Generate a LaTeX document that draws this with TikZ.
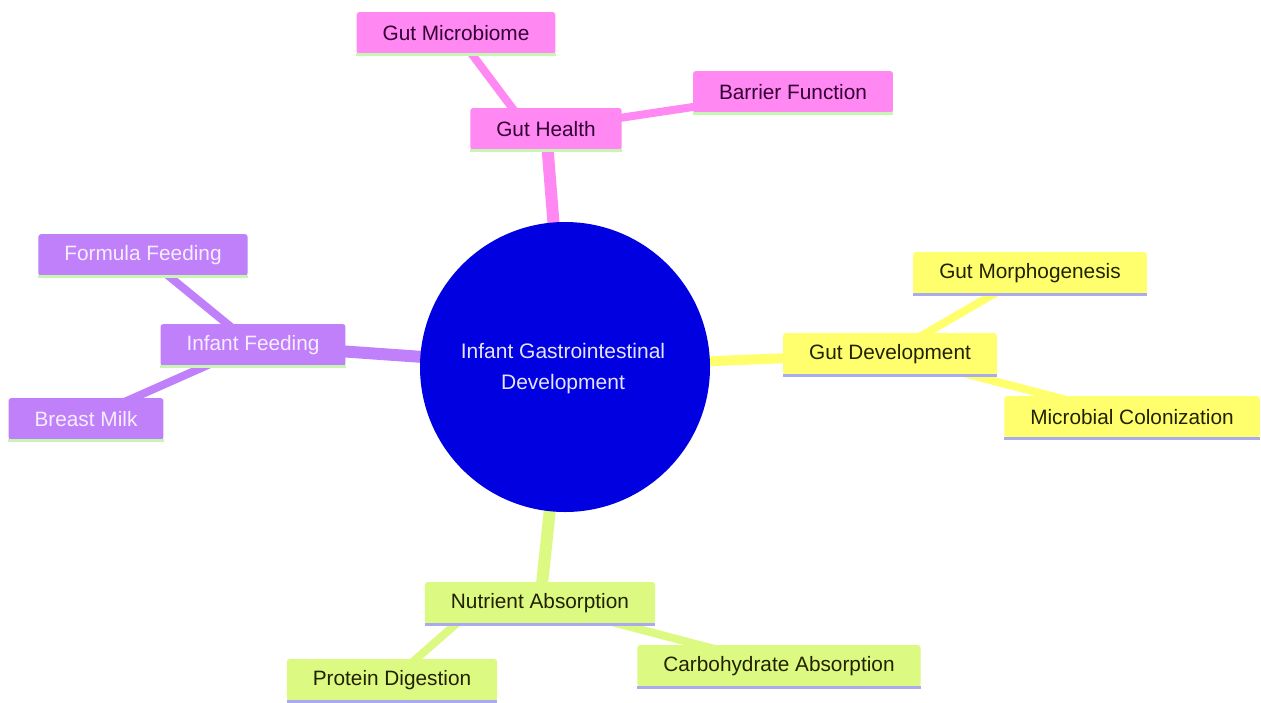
\documentclass[tikz,border=0pt]{standalone}
\usepackage{fontspec}
\setmainfont{Liberation Sans}
\usetikzlibrary{calc}
\pgfdeclarelayer{bg}
\pgfsetlayers{bg,main}
\definecolor{pinkc}{HTML}{FF88F2}
\definecolor{purplec}{HTML}{BF80FA}
\definecolor{yellowc}{HTML}{FFFF6E}
\definecolor{greenc}{HTML}{DCFA82}
\definecolor{bluec}{HTML}{0000E0}
\definecolor{ulgreen}{HTML}{C8F5B4}
\definecolor{ullav}{HTML}{AAAAEE}
\definecolor{pinktext}{HTML}{330033}
\definecolor{purpletext}{HTML}{F6EEFF}
\definecolor{darktext}{HTML}{222200}
\definecolor{circtext}{HTML}{E4E4FF}
\tikzset{
  box/.style={rectangle, rounded corners=3pt, inner xsep=26pt, inner ysep=0pt,
    minimum height=42pt, font=\fontsize{20.8}{25}\selectfont},
  pinkbox/.style={box, fill=pinkc, text=pinktext},
  purplebox/.style={box, fill=purplec, text=purpletext},
  yellowbox/.style={box, fill=yellowc, text=darktext},
  greenbox/.style={box, fill=greenc, text=darktext},
  mainedge/.style={line width=12pt},
  subedge/.style={line width=8pt},
  uline/.style={line width=3pt},
}
\begin{document}
\begin{tikzpicture}[x=1pt,y=-1pt]
\useasboundingbox (0,0) rectangle (1261,702);

\node[circle, fill=bluec, minimum size=290pt, inner sep=0pt, text=circtext, align=center,
  font=\fontsize{21}{31}\selectfont] (c) at (565,367) {};
\node[text=circtext, align=center, font=\fontsize{21}{31}\selectfont, inner sep=0pt]
  (ct) at (563,369) {Infant Gastrointestinal\\Development};

% Gut Health branch
\node[pinkbox] (gh) at (546,129) {Gut Health};
\node[pinkbox] (gm) at (456,33) {Gut Microbiome};
\node[pinkbox] (bf) at (793,92) {Barrier Function};

% Infant Feeding branch
\node[purplebox] (inf) at (253,345) {Infant Feeding};
\node[purplebox] (ff) at (143,255) {Formula Feeding};
\node[purplebox] (bm) at (86,419) {Breast Milk};

% Gut Development branch
\node[yellowbox] (gd) at (890,354) {Gut Development};
\node[yellowbox] (gmo) at (1030,273) {Gut Morphogenesis};
\node[yellowbox] (mc) at (1132,417) {Microbial Colonization};

% Nutrient Absorption branch
\node[greenbox] (na) at (540,603) {Nutrient Absorption};
\node[greenbox] (pd) at (392,680) {Protein Digestion};
\node[greenbox] (ca) at (779,666) {Carbohydrate Absorption};

% underlines
\foreach \n in {gh,gm,bf,inf,ff,bm}
  \draw[uline, ulgreen] (\n.south west) -- (\n.south east);
\foreach \n in {gd,gmo,mc,na,pd,ca}
  \draw[uline, ullav] (\n.south west) -- (\n.south east);

\begin{pgfonlayer}{bg}
  \fill[white] (0,0) rectangle (1261,702);
  \draw[mainedge, pinkc] (c.center) -- (gh.center);
  \draw[subedge, pinkc] ($(gh.center)+(-18,0)$) -- (gm.center);
  \draw[subedge, pinkc] (gh.center) -- (bf.center);
  \draw[mainedge, purplec] (c.center) -- (inf.center);
  \draw[subedge, purplec] (inf.center) -- (ff.center);
  \draw[subedge, purplec] (inf.center) -- (bm.center);
  \draw[line width=10pt, yellowc] (c.center) -- (gd.center);
  \draw[subedge, yellowc] (gd.center) -- (gmo.center);
  \draw[subedge, yellowc] (gd.center) -- (mc.center);
  \draw[mainedge, greenc] (c.center) -- (na.center);
  \draw[subedge, greenc] ($(na.center)+(-60,0)$) -- (pd.center);
  \draw[subedge, greenc] (na.center) -- (ca.center);
\end{pgfonlayer}
\end{tikzpicture}
\end{document}
